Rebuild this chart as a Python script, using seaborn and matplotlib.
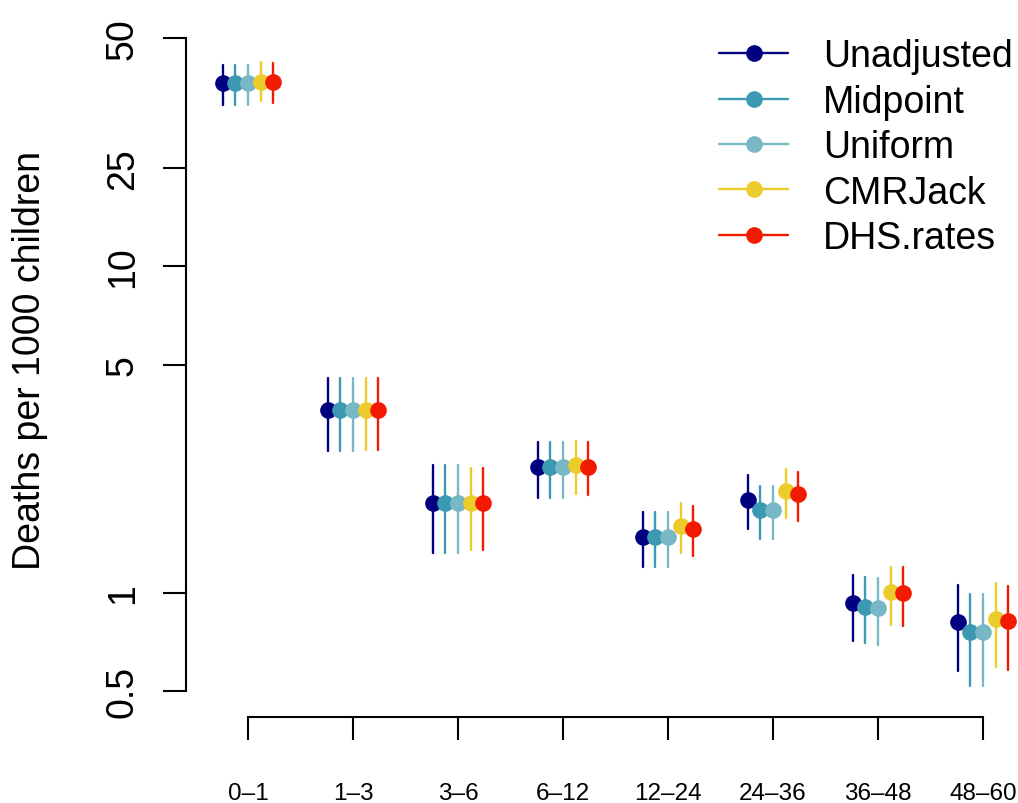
import numpy as np
import pandas as pd
import matplotlib
matplotlib.use("Agg")
import matplotlib.pyplot as plt
from matplotlib.lines import Line2D
from matplotlib.ticker import FixedLocator, NullLocator
import seaborn as sns

# Age groups (months)
age_groups = ["0–1", "1–3", "3–6", "6–12", "12–24", "24–36", "36–48", "48–60"]
methods = ["Unadjusted", "Midpoint", "Uniform", "CMRJack", "DHS.rates"]
method_colors = ["#000080", "#3B9AB2", "#78B7C5", "#EBCC2A", "#F21A00"]

# Estimated deaths per 1000 children, with lower / upper interval bounds
unadjusted_est = [36.5, 3.64, 1.89, 2.43, 1.48, 1.93, 0.930, 0.817]
unadjusted_lo = [31.2, 2.72, 1.33, 1.96, 1.20, 1.57, 0.714, 0.575]
unadjusted_hi = [41.5, 4.55, 2.47, 2.89, 1.775, 2.29, 1.138, 1.06]

midpoint_est = [36.5, 3.64, 1.89, 2.43, 1.48, 1.795, 0.908, 0.758]
midpoint_lo = [31.2, 2.72, 1.33, 1.96, 1.20, 1.46, 0.701, 0.520]
midpoint_hi = [41.5, 4.55, 2.47, 2.89, 1.775, 2.12, 1.117, 0.993]

uniform_est = [36.5, 3.64, 1.89, 2.43, 1.48, 1.795, 0.902, 0.758]
uniform_lo = [31.2, 2.72, 1.33, 1.96, 1.20, 1.46, 0.693, 0.520]
uniform_hi = [41.5, 4.55, 2.47, 2.89, 1.775, 2.12, 1.109, 0.993]

cmrjack_est = [36.8, 3.64, 1.89, 2.46, 1.607, 2.05, 1.005, 0.833]
cmrjack_lo = [32.0, 2.75, 1.35, 2.01, 1.326, 1.697, 0.798, 0.595]
cmrjack_hi = [42.2, 4.55, 2.41, 2.92, 1.887, 2.40, 1.204, 1.07]

dhs_est = [36.8, 3.64, 1.89, 2.43, 1.57, 2.01, 1.000, 0.818]
dhs_lo = [31.6, 2.75, 1.35, 1.99, 1.296, 1.665, 0.794, 0.582]
dhs_hi = [42.0, 4.55, 2.41, 2.89, 1.843, 2.35, 1.199, 1.053]

ytick_values = [0.5, 1, 5, 10, 20, 50]
ytick_labels = ["0.5", "1", "5", "10", "25", "50"]

series = {
    "Unadjusted": (unadjusted_est, unadjusted_lo, unadjusted_hi),
    "Midpoint": (midpoint_est, midpoint_lo, midpoint_hi),
    "Uniform": (uniform_est, uniform_lo, uniform_hi),
    "CMRJack": (cmrjack_est, cmrjack_lo, cmrjack_hi),
    "DHS.rates": (dhs_est, dhs_lo, dhs_hi),
}

# Long table: each estimate with its two bounds; the median marks the point
# and the min/max span gives the interval.
rows = []
for m in methods:
    est, lo, hi = series[m]
    for g, e, l, h in zip(age_groups, est, lo, hi):
        for v in (l, e, h):
            rows.append({"age": g, "method": m, "rate": v})
df = pd.DataFrame(rows)

sns.set_style("ticks", {
    "text.color": "black", "axes.labelcolor": "black",
    "xtick.color": "black", "ytick.color": "black",
    "axes.edgecolor": "black",
})
plt.rcParams["font.family"] = ["Liberation Sans", "DejaVu Sans"]

fig = plt.figure(figsize=(10.18, 8.04), dpi=100)
ax = fig.add_axes([186 / 1018, (804 - 718) / 804, (1018 - 186) / 1018, (718 - 8) / 804])

sns.pointplot(
    data=df, x="age", y="rate", hue="method",
    order=age_groups, hue_order=methods, palette=method_colors,
    estimator="median", errorbar=lambda v: (v.min(), v.max()),
    dodge=0.48, linestyle="none", markers="o",
    markersize=12, markeredgewidth=0,
    err_kws={"linewidth": 1.7},
    log_scale=(False, True), legend=False, ax=ax,
)

ax.set_xlim(-0.59, 7.333)
ax.set_ylim(0.417, 62.3)

for side in ["top", "right"]:
    ax.spines[side].set_visible(False)
for side in ["left", "bottom"]:
    ax.spines[side].set_linewidth(1.5)
    ax.spines[side].set_color("black")
ax.spines["left"].set_bounds(0.5, 50)
ax.spines["bottom"].set_bounds(0, 7)

ax.yaxis.set_major_locator(FixedLocator(ytick_values))
ax.yaxis.set_minor_locator(NullLocator())
ax.set_yticklabels(ytick_labels, rotation=90, va="center", fontsize=27)
ax.set_xticks(range(len(age_groups)))
ax.set_xticklabels(age_groups, fontsize=17.5)
ax.tick_params(axis="y", which="major", left=True, length=16.5, width=1.5, pad=16,
               direction="out", color="black", labelcolor="black")
ax.tick_params(axis="x", which="major", bottom=True, length=16.5, width=1.5, pad=30,
               direction="out", color="black", labelcolor="black")
ax.tick_params(which="minor", left=False, bottom=False)
ax.set_xlabel("")
ax.set_ylabel("")

fig.text(30 / 1018, 1 - 361 / 804, "Deaths per 1000 children", rotation=90,
         ha="center", va="center", fontsize=27, color="black")

handles = [
    Line2D([0], [0], color=c, linewidth=1.7, marker="o", markersize=12,
           markeredgewidth=0)
    for c in method_colors
]
leg = fig.legend(handles, methods, loc="upper right", bbox_to_anchor=(1013 / 1018, 0.951),
                 frameon=False, fontsize=27, handlelength=1.84, handletextpad=0.93,
                 labelspacing=0.25, borderpad=0, borderaxespad=0)
for t in leg.get_texts():
    t.set_color("black")

fig.savefig("out.png", dpi=100, facecolor="white")
